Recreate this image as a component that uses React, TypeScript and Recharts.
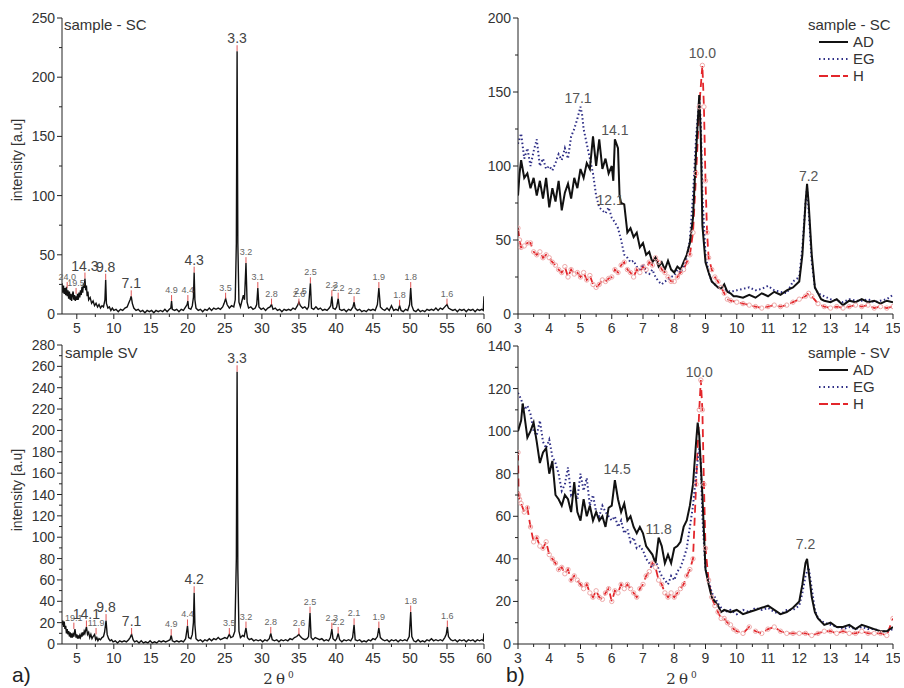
import React from 'react';
import { LineChart, Line, XAxis, YAxis, ReferenceDot, ReferenceLine } from 'recharts';

const FONT = '"Liberation Sans", Arial, sans-serif';

// a) full patterns, [2theta, intensity]
const scPattern: [number, number][] = [
  [3.0,26],[3.1,18],[3.2,24],[3.3,17],[3.4,22],[3.5,16],[3.6,23],[3.7,15],[3.8,20],[3.9,13],[4.0,19],[4.1,12],[4.2,17],[4.3,11],[4.4,16],[4.5,19],[4.6,12],[4.7,16],[4.8,11],[4.9,15],
  [5.0,12],[5.1,17],[5.2,12],[5.3,18],[5.4,14],[5.5,20],[5.6,16],[5.7,23],[5.8,18],[5.9,26],[6.0,22],[6.1,30],[6.2,20],[6.3,24],[6.4,15],[6.5,19],[6.6,12],[6.8,14],[7.0,9],[7.2,11],
  [7.4,7],[7.6,9],[7.8,6],[8.0,8],[8.2,5],[8.4,7],[8.6,6],[8.8,12],[8.9,29],[9.0,9],[9.2,5],[9.4,6],[9.6,3],[9.8,5],[10.0,3],[10.3,4],[10.6,2],[10.9,4],[11.2,3],[11.5,5],
  [11.8,6],[12.0,9],[12.2,12],[12.35,15],[12.5,9],[12.7,5],[13.0,3],[13.3,4],[13.6,2],[13.9,3],[14.2,1],[14.5,3],[14.8,2],[15.1,3],[15.4,1],[15.7,3],[16.0,2],[16.3,3],[16.6,2],[16.9,4],
  [17.2,2],[17.5,4],[17.7,5],[17.8,11],[17.9,4],[18.2,3],[18.5,4],[18.8,2],[19.1,4],[19.4,3],[19.7,6],[19.9,8],[20.0,11],[20.1,5],[20.4,4],[20.6,7],[20.75,14],[20.85,35],[20.95,12],[21.1,5],
  [21.4,3],[21.7,4],[22.0,2],[22.3,4],[22.6,3],[22.9,5],[23.2,3],[23.5,5],[23.8,4],[24.1,5],[24.4,4],[24.7,6],[24.9,9],[25.1,13],[25.3,8],[25.6,5],[25.9,7],[26.2,6],[26.4,12],[26.55,60],
  [26.65,222],[26.75,60],[26.9,10],[27.1,6],[27.3,11],[27.5,16],[27.65,12],[27.85,43],[28.0,10],[28.2,5],[28.5,6],[28.8,4],[29.1,5],[29.3,8],[29.45,22],[29.6,6],[29.9,4],[30.2,5],[30.5,3],[30.8,5],
  [31.1,6],[31.3,8],[31.5,4],[31.8,5],[32.1,3],[32.4,4],[32.7,2],[33.0,4],[33.3,3],[33.6,4],[33.9,3],[34.2,5],[34.5,4],[34.8,7],[35.0,10],[35.2,7],[35.5,5],[35.8,6],[36.1,4],[36.3,6],
  [36.55,26],[36.7,5],[37.0,4],[37.3,6],[37.6,4],[37.9,5],[38.2,3],[38.5,4],[38.8,3],[39.1,5],[39.3,7],[39.45,15],[39.6,5],[39.9,4],[40.1,6],[40.3,13],[40.5,4],[40.8,3],[41.1,4],[41.4,2],
  [41.7,4],[42.0,3],[42.3,6],[42.45,10],[42.6,5],[42.9,3],[43.2,4],[43.5,2],[43.8,3],[44.1,2],[44.4,4],[44.7,3],[45.0,4],[45.3,3],[45.6,8],[45.8,22],[46.0,6],[46.3,4],[46.6,3],[46.9,5],
  [47.2,3],[47.5,7],[47.8,3],[48.1,4],[48.4,3],[48.6,7],[48.8,3],[49.1,2],[49.4,4],[49.7,3],[49.95,8],[50.1,22],[50.25,7],[50.5,3],[50.8,2],[51.1,4],[51.4,2],[51.7,3],[52.0,2],[52.3,4],
  [52.6,3],[52.9,4],[53.2,3],[53.5,5],[53.8,3],[54.1,5],[54.4,4],[54.7,6],[55.0,8],[55.2,5],[55.5,4],[55.8,3],[56.1,4],[56.4,2],[56.7,4],[57.0,3],[57.3,4],[57.6,2],[57.9,4],[58.2,3],
  [58.5,4],[58.8,2],[59.1,4],[59.4,3],[59.7,4],[59.9,3],[60.0,15],
];

const svPattern: [number, number][] = [
  [3.0,18],[3.1,22],[3.2,16],[3.3,21],[3.4,14],[3.5,17],[3.6,10],[3.7,14],[3.8,9],[3.9,12],[4.0,7],[4.1,11],[4.2,6],[4.3,10],[4.4,6],[4.5,9],[4.6,7],[4.75,14],[4.9,6],[5.0,9],
  [5.1,5],[5.2,8],[5.3,5],[5.4,8],[5.5,6],[5.6,9],[5.7,7],[5.8,11],[5.9,8],[6.0,12],[6.1,10],[6.3,16],[6.45,9],[6.6,11],[6.75,6],[6.9,9],[7.05,5],[7.2,7],[7.4,9],[7.55,4],
  [7.7,6],[7.85,3],[8.0,5],[8.2,4],[8.4,6],[8.6,7],[8.75,11],[8.95,22],[9.1,9],[9.3,5],[9.5,3],[9.7,4],[9.9,2],[10.2,3],[10.5,1],[10.8,3],[11.1,2],[11.4,3],[11.7,2],[12.0,4],
  [12.2,6],[12.4,9],[12.6,4],[12.8,2],[13.1,3],[13.4,1],[13.7,3],[14.0,1],[14.3,2],[14.6,1],[14.9,3],[15.2,1],[15.5,2],[15.8,1],[16.1,3],[16.4,2],[16.7,3],[17.0,2],[17.3,3],[17.6,4],
  [17.75,8],[17.9,3],[18.2,2],[18.5,3],[18.8,2],[19.1,3],[19.4,2],[19.7,5],[19.95,17],[20.1,6],[20.4,5],[20.6,9],[20.75,20],[20.85,48],[20.95,18],[21.1,5],[21.4,3],[21.7,4],[22.0,2],[22.3,4],
  [22.6,3],[22.9,5],[23.2,3],[23.5,5],[23.8,4],[24.1,6],[24.4,4],[24.7,5],[25.0,6],[25.3,5],[25.6,9],[25.8,6],[26.1,7],[26.35,12],[26.55,80],[26.65,255],[26.75,70],[26.9,12],[27.1,6],[27.4,8],
  [27.6,7],[27.85,15],[28.05,6],[28.3,4],[28.6,5],[28.9,3],[29.2,4],[29.5,3],[29.8,4],[30.1,2],[30.4,4],[30.7,3],[31.0,5],[31.2,10],[31.4,4],[31.7,3],[32.0,4],[32.3,2],[32.6,4],[32.9,3],
  [33.2,4],[33.5,3],[33.8,5],[34.1,4],[34.4,6],[34.7,7],[35.0,9],[35.2,7],[35.5,5],[35.8,4],[36.1,5],[36.3,7],[36.5,29],[36.65,6],[36.9,4],[37.2,6],[37.5,5],[37.8,4],[38.1,5],[38.4,3],
  [38.7,4],[39.0,3],[39.25,6],[39.45,14],[39.6,5],[39.9,3],[40.1,5],[40.3,10],[40.5,4],[40.8,2],[41.1,4],[41.4,3],[41.7,4],[42.0,3],[42.25,6],[42.45,18],[42.6,4],[42.9,3],[43.2,4],[43.5,2],
  [43.8,3],[44.1,2],[44.4,4],[44.7,3],[45.0,5],[45.3,4],[45.6,7],[45.8,15],[46.0,6],[46.3,4],[46.6,3],[46.9,4],[47.2,2],[47.5,4],[47.8,3],[48.1,4],[48.4,2],[48.7,4],[49.0,3],[49.3,4],
  [49.6,3],[49.9,7],[50.1,30],[50.25,7],[50.5,3],[50.8,2],[51.1,4],[51.4,2],[51.7,3],[52.0,2],[52.3,4],[52.6,3],[52.9,5],[53.2,3],[53.5,4],[53.8,3],[54.1,4],[54.4,3],[54.7,6],[54.9,9],
  [55.05,16],[55.2,7],[55.5,4],[55.8,3],[56.1,4],[56.4,2],[56.7,4],[57.0,3],[57.3,4],[57.6,2],[57.9,4],[58.2,3],[58.5,4],[58.8,2],[59.1,4],[59.4,3],[59.7,4],[59.9,3],[60.0,10],
];

// peak labels: [2theta, peak top, d-spacing text, big label]
const scPeaks: [number, number, string, boolean][] = [
  [3.7,22,'24.0',false],[4.9,17,'19.5',false],[6.1,30,'14.3',true],[8.9,29,'9.8',true],[12.35,15,'7.1',true],
  [17.8,11,'4.9',false],[20.0,11,'4.4',false],[20.85,35,'4.3',true],[25.1,13,'3.5',false],[26.65,222,'3.3',true],
  [27.85,43,'3.2',false],[29.45,22,'3.1',false],[31.3,8,'2.8',false],[35.0,8,'2.6',false],[36.55,26,'2.5',false],
  [39.45,15,'2.3',false],[40.3,13,'2.2',false],[42.45,10,'2.2',false],[45.8,22,'1.9',false],[48.6,7,'1.8',false],
  [50.1,22,'1.8',false],[55.0,8,'1.6',false],
];
const scExtraLabels: [number, number, string][] = [[35.2,20,'2.5']];

const svPeaks: [number, number, string, boolean][] = [
  [4.6,14,'19.1',false],[6.3,16,'14.1',true],[7.6,9,'11.9',false],[8.95,22,'9.8',true],[12.4,9,'7.1',true],
  [17.75,8,'4.9',false],[19.95,17,'4.4',false],[20.85,48,'4.2',true],[25.6,9,'3.5',false],[26.65,255,'3.3',true],
  [27.85,15,'3.2',false],[31.2,10,'2.8',false],[35.0,9,'2.6',false],[36.5,29,'2.5',false],[39.45,14,'2.3',false],
  [40.3,10,'2.2',false],[42.45,18,'2.1',false],[45.8,15,'1.9',false],[50.1,30,'1.8',false],[55.05,16,'1.6',false],
];

// b) low-angle region, sample SC
const scAD: [number, number][] = [
  [3.0,80],[3.05,95],[3.1,104],[3.2,92],[3.3,95],[3.4,85],[3.5,92],[3.6,80],[3.7,90],[3.8,78],[3.9,92],[4.0,72],[4.1,85],[4.2,76],[4.3,90],[4.4,70],[4.5,82],[4.6,88],[4.7,78],[4.8,92],
  [4.9,85],[5.0,98],[5.1,92],[5.2,102],[5.3,98],[5.4,120],[5.5,100],[5.6,118],[5.7,98],[5.8,105],[5.9,95],[6.0,100],[6.05,90],[6.1,118],[6.2,112],[6.25,80],[6.3,75],[6.4,74],[6.5,55],[6.6,58],
  [6.7,52],[6.8,55],[6.9,45],[7.0,48],[7.1,40],[7.2,42],[7.3,35],[7.4,38],[7.5,32],[7.6,35],[7.7,30],[7.8,36],[7.9,30],[8.0,28],[8.1,32],[8.2,30],[8.3,35],[8.4,40],[8.5,48],[8.6,65],
  [8.7,110],[8.8,148],[8.85,120],[8.9,60],[9.0,35],[9.1,28],[9.2,22],[9.3,20],[9.4,18],[9.5,17],[9.6,20],[9.7,15],[9.8,14],[9.9,12],[10.0,12],[10.2,11],[10.4,13],[10.6,11],[10.8,14],[11.0,12],
  [11.2,15],[11.4,13],[11.6,16],[11.8,18],[12.0,22],[12.1,40],[12.2,75],[12.25,88],[12.3,75],[12.4,40],[12.5,18],[12.6,14],[12.7,10],[12.8,9],[13.0,8],[13.2,10],[13.4,6],[13.6,9],[13.8,8],[14.0,10],
  [14.2,8],[14.4,9],[14.6,7],[14.8,9],[15.0,8],
];
const scEG: [number, number][] = [
  [3.0,115],[3.1,122],[3.2,105],[3.3,112],[3.4,100],[3.5,110],[3.6,118],[3.7,100],[3.8,105],[3.9,98],[4.0,100],[4.1,97],[4.2,102],[4.3,108],[4.4,104],[4.5,112],[4.6,105],[4.7,120],[4.8,125],[4.9,132],
  [5.0,140],[5.05,135],[5.1,125],[5.2,115],[5.3,105],[5.4,95],[5.5,80],[5.6,72],[5.7,70],[5.8,68],[5.9,72],[6.0,65],[6.1,62],[6.2,58],[6.3,50],[6.4,40],[6.5,38],[6.6,35],[6.7,36],[6.8,32],
  [6.9,30],[7.0,34],[7.1,28],[7.2,27],[7.3,30],[7.4,25],[7.5,22],[7.6,20],[7.7,22],[7.8,23],[7.9,25],[8.0,26],[8.1,30],[8.2,28],[8.3,32],[8.4,38],[8.5,50],[8.6,80],[8.7,120],[8.8,145],
  [8.85,130],[8.9,80],[9.0,40],[9.1,28],[9.2,22],[9.3,20],[9.4,18],[9.6,17],[9.8,15],[10.0,16],[10.2,17],[10.4,18],[10.6,16],[10.8,17],[11.0,19],[11.2,16],[11.4,15],[11.6,14],[11.8,22],[12.0,25],
  [12.1,45],[12.2,75],[12.25,85],[12.3,70],[12.4,35],[12.5,18],[12.6,14],[12.8,12],[13.0,10],[13.2,9],[13.4,8],[13.6,10],[13.8,9],[14.0,9],[14.2,10],[14.4,8],[14.6,9],[14.8,10],[15.0,13],
];
const scH: [number, number][] = [
  [3.0,58],[3.05,50],[3.1,45],[3.2,46],[3.3,48],[3.4,48],[3.5,42],[3.6,40],[3.7,42],[3.8,38],[3.9,40],[4.0,38],[4.1,35],[4.2,33],[4.3,30],[4.4,28],[4.5,32],[4.6,25],[4.7,30],[4.8,27],
  [4.9,28],[5.0,25],[5.1,28],[5.2,23],[5.3,26],[5.4,20],[5.5,18],[5.6,20],[5.7,23],[5.8,22],[5.9,24],[6.0,25],[6.1,30],[6.2,28],[6.3,33],[6.4,35],[6.5,30],[6.6,28],[6.7,25],[6.8,30],
  [6.9,28],[7.0,32],[7.1,30],[7.2,35],[7.3,33],[7.4,38],[7.5,35],[7.6,30],[7.7,28],[7.8,25],[7.9,22],[8.0,22],[8.1,25],[8.2,28],[8.3,30],[8.4,35],[8.5,40],[8.6,55],[8.7,95],[8.8,140],
  [8.9,168],[8.95,140],[9.0,90],[9.05,55],[9.1,38],[9.2,30],[9.3,25],[9.4,22],[9.5,18],[9.6,14],[9.7,10],[9.8,9],[10.0,8],[10.2,7],[10.4,6],[10.6,5],[10.8,4],[11.0,5],[11.2,6],[11.4,5],
  [11.6,6],[11.8,8],[12.0,10],[12.2,12],[12.3,14],[12.4,12],[12.6,7],[12.8,5],[13.0,4],[13.2,5],[13.4,4],[13.6,5],[13.8,6],[14.0,5],[14.2,6],[14.4,4],[14.6,5],[14.8,4],[15.0,5],
];
const scLowLabels: [number, number, string][] = [[4.92,146,'17.1'],[6.1,124,'14.1'],[5.95,77,'12.1'],[8.9,176,'10.0'],[12.3,93,'7.2']];

// b) low-angle region, sample SV
const svAD: [number, number][] = [
  [3.0,100],[3.1,105],[3.15,113],[3.2,108],[3.3,97],[3.4,100],[3.5,104],[3.6,95],[3.7,85],[3.8,90],[3.9,92],[4.0,80],[4.1,86],[4.2,70],[4.3,68],[4.4,65],[4.5,70],[4.6,68],[4.7,62],[4.8,76],
  [4.9,62],[5.0,58],[5.1,68],[5.2,60],[5.3,65],[5.4,58],[5.5,62],[5.6,58],[5.7,60],[5.8,55],[5.9,64],[6.0,65],[6.1,77],[6.2,68],[6.3,62],[6.4,66],[6.5,58],[6.6,60],[6.7,55],[6.8,52],
  [6.9,55],[7.0,52],[7.1,46],[7.2,44],[7.3,42],[7.4,38],[7.5,50],[7.6,46],[7.7,38],[7.8,42],[7.9,38],[8.0,45],[8.1,46],[8.2,48],[8.3,55],[8.4,58],[8.5,65],[8.6,75],[8.7,95],[8.75,104],
  [8.8,98],[8.9,70],[9.0,35],[9.1,28],[9.2,22],[9.3,20],[9.4,18],[9.5,15],[9.6,16],[9.8,15],[10.0,16],[10.2,14],[10.4,15],[10.6,16],[10.8,17],[11.0,18],[11.2,16],[11.4,14],[11.6,15],[11.8,17],
  [12.0,20],[12.1,28],[12.2,38],[12.25,40],[12.3,34],[12.4,22],[12.5,15],[12.6,12],[12.8,9],[13.0,10],[13.2,8],[13.4,8],[13.6,9],[13.8,7],[14.0,9],[14.2,8],[14.4,7],[14.6,6],[14.8,6],[15.0,8],
];
const svEG: [number, number][] = [
  [3.0,118],[3.1,115],[3.2,110],[3.3,112],[3.4,108],[3.5,100],[3.6,98],[3.7,105],[3.8,95],[3.9,92],[4.0,96],[4.1,88],[4.2,85],[4.3,80],[4.4,72],[4.5,75],[4.6,83],[4.7,70],[4.8,72],[4.9,68],
  [5.0,80],[5.1,72],[5.2,78],[5.3,65],[5.4,70],[5.5,62],[5.6,60],[5.7,65],[5.8,62],[5.9,60],[6.0,58],[6.1,60],[6.2,55],[6.3,58],[6.4,52],[6.5,54],[6.6,48],[6.7,50],[6.8,45],[6.9,46],
  [7.0,44],[7.1,40],[7.2,38],[7.3,36],[7.4,40],[7.5,35],[7.6,32],[7.7,30],[7.8,28],[7.9,32],[8.0,30],[8.1,34],[8.2,36],[8.3,40],[8.4,45],[8.5,55],[8.6,65],[8.7,80],[8.8,92],[8.85,85],
  [8.9,60],[9.0,35],[9.1,30],[9.2,24],[9.3,22],[9.4,19],[9.6,15],[9.8,16],[10.0,14],[10.2,16],[10.4,15],[10.6,17],[10.8,16],[11.0,17],[11.2,15],[11.4,14],[11.6,16],[11.8,16],[12.0,18],[12.1,24],
  [12.2,32],[12.3,36],[12.4,26],[12.5,16],[12.6,12],[12.8,10],[13.0,9],[13.2,8],[13.4,7],[13.6,8],[13.8,7],[14.0,8],[14.2,7],[14.4,7],[14.6,6],[14.8,6],[15.0,7],
];
const svH: [number, number][] = [
  [3.0,90],[3.02,70],[3.05,68],[3.1,66],[3.2,62],[3.3,64],[3.4,55],[3.5,48],[3.6,50],[3.7,46],[3.8,45],[3.9,48],[4.0,42],[4.1,40],[4.2,38],[4.3,35],[4.4,36],[4.5,33],[4.6,35],[4.7,30],
  [4.8,32],[4.9,30],[5.0,28],[5.1,26],[5.2,28],[5.3,24],[5.4,22],[5.5,25],[5.6,22],[5.7,21],[5.8,24],[5.9,26],[6.0,20],[6.1,25],[6.2,24],[6.3,28],[6.4,26],[6.5,28],[6.6,26],[6.7,24],
  [6.8,22],[6.9,26],[7.0,28],[7.1,32],[7.2,34],[7.3,38],[7.4,36],[7.5,30],[7.6,28],[7.7,24],[7.8,22],[7.9,24],[8.0,22],[8.1,24],[8.2,26],[8.3,28],[8.4,32],[8.5,35],[8.6,40],[8.7,75],
  [8.8,110],[8.85,124],[8.9,110],[8.95,75],[9.0,45],[9.1,30],[9.2,22],[9.3,18],[9.4,15],[9.5,12],[9.6,12],[9.7,10],[9.8,9],[9.9,7],[10.0,6],[10.2,5],[10.4,8],[10.6,6],[10.8,5],[11.0,7],
  [11.2,8],[11.4,6],[11.6,5],[11.8,5],[12.0,5],[12.2,5],[12.4,4],[12.6,5],[12.8,6],[13.0,6],[13.2,5],[13.4,6],[13.6,5],[13.8,5],[14.0,6],[14.2,5],[14.4,5],[14.6,5],[14.8,4],[15.0,12],
];
const svLowLabels: [number, number, string][] = [[6.17,82,'14.5'],[7.5,54,'11.8'],[8.8,128,'10.0'],[12.2,47,'7.2']];

// axis ticks (major ticks carry labels, minor ones only a short line)
const wideXTicks = [5, 7.5, 10, 12.5, 15, 17.5, 20, 22.5, 25, 27.5, 30, 32.5, 35, 37.5, 40, 42.5, 45, 47.5, 50, 52.5, 55, 57.5, 60];
const wideXMajor = [5, 10, 15, 20, 25, 30, 35, 40, 45, 50, 55, 60];
const lowXTicks = [3, 3.5, 4, 4.5, 5, 5.5, 6, 6.5, 7, 7.5, 8, 8.5, 9, 9.5, 10, 10.5, 11, 11.5, 12, 12.5, 13, 13.5, 14, 14.5, 15];
const lowXMajor = [3, 4, 5, 6, 7, 8, 9, 10, 11, 12, 13, 14, 15];
const scYTicks = [0, 25, 50, 75, 100, 125, 150, 175, 200, 225, 250];
const scYMajor = [0, 50, 100, 150, 200, 250];
const svYTicks = [0, 10, 20, 30, 40, 50, 60, 70, 80, 90, 100, 110, 120, 130, 140, 150, 160, 170, 180, 190, 200, 210, 220, 230, 240, 250, 260, 270, 280];
const svYMajor = [0, 20, 40, 60, 80, 100, 120, 140, 160, 180, 200, 220, 240, 260, 280];
const scLowYTicks = [0, 25, 50, 75, 100, 125, 150, 175, 200];
const scLowYMajor = [0, 50, 100, 150, 200];
const svLowYTicks = [0, 10, 20, 30, 40, 50, 60, 70, 80, 90, 100, 110, 120, 130, 140];
const svLowYMajor = [0, 20, 40, 60, 80, 100, 120, 140];

const pts = (arr: [number, number][]) => arr.map(([x, y]) => ({ x, y }));

const XTick = (props: any) => {
  const { x, y, payload, majors } = props;
  const major = majors.includes(payload.value);
  return (
    <g>
      <line x1={x} x2={x} y1={y} y2={y + (major ? 5 : 3)} stroke="#222" strokeWidth={1} />
      {major && (
        <text x={x} y={y + 19} textAnchor="middle" fontSize={14} fill="#333" fontFamily={FONT}>
          {payload.value}
        </text>
      )}
    </g>
  );
};

const YTick = (props: any) => {
  const { x, y, payload, majors } = props;
  const major = majors.includes(payload.value);
  return (
    <g>
      <line x1={x} x2={x - (major ? 5 : 3)} y1={y} y2={y} stroke="#222" strokeWidth={1} />
      {major && (
        <text x={x - 7} y={y + 5} textAnchor="end" fontSize={14} fill="#333" fontFamily={FONT}>
          {payload.value}
        </text>
      )}
    </g>
  );
};

const axisCommon = { tickSize: 0, tickMargin: 0, tickLine: false, interval: 0 as const, axisLine: { stroke: '#222' } };

const peakLabels = (peaks: [number, number, string, boolean][], mark: number, keyPrefix: string) =>
  peaks.flatMap(([x, y, t, big], i) => [
    <ReferenceLine
      key={`${keyPrefix}m${i}`}
      segment={[{ x, y }, { x, y: y + mark }]}
      stroke="#e05555"
      strokeWidth={1}
    />,
    <ReferenceDot
      key={`${keyPrefix}t${i}`}
      x={x}
      y={y + mark}
      r={0}
      fill="none"
      stroke="none"
      label={{ value: t, position: 'top', offset: 2, fontSize: big ? 14 : 9, fill: big ? '#444' : '#666', fontFamily: FONT }}
    />,
  ]);

const textLabels = (items: [number, number, string][], size: number, keyPrefix: string) =>
  items.map(([x, y, t], i) => (
    <ReferenceDot
      key={`${keyPrefix}${i}`}
      x={x}
      y={y}
      r={0}
      fill="none"
      stroke="none"
      label={{ value: t, position: 'center', fontSize: size, fill: '#555', fontFamily: FONT }}
    />
  ));

const WidePanel = ({ data, peaks, extra, yMax, yTicks, yMajor, top, mark }: any) => (
  <LineChart width={500} height={340} margin={{ top, right: 16, bottom: 0, left: 0 }}>
    <XAxis type="number" dataKey="x" domain={[3, 60]} ticks={wideXTicks} height={26} allowDataOverflow
      tick={<XTick majors={wideXMajor} />} {...axisCommon} />
    <YAxis type="number" dataKey="y" domain={[0, yMax]} ticks={yTicks} width={62} allowDataOverflow
      tick={<YTick majors={yMajor} />} {...axisCommon} />
    <Line data={pts(data)} dataKey="y" type="linear" stroke="#111" strokeWidth={1.4} dot={false} isAnimationActive={false} />
    {peakLabels(peaks, mark, 'p')}
    {extra && textLabels(extra, 9, 'e')}
  </LineChart>
);

const LowPanel = ({ ad, eg, h, labels, yMax, yTicks, yMajor, top }: any) => (
  <LineChart width={430} height={340} margin={{ top, right: 7, bottom: 0, left: 0 }}>
    <XAxis type="number" dataKey="x" domain={[3, 15]} ticks={lowXTicks} height={26} allowDataOverflow
      tick={<XTick majors={lowXMajor} />} {...axisCommon} />
    <YAxis type="number" dataKey="y" domain={[0, yMax]} ticks={yTicks} width={48} allowDataOverflow
      tick={<YTick majors={yMajor} />} {...axisCommon} />
    <Line data={pts(h)} dataKey="y" type="linear" stroke="#e3262b" strokeWidth={1.8} strokeDasharray="8 5"
      dot={{ r: 2.2, stroke: '#eeaaaa', strokeWidth: 1, fill: 'none', strokeDasharray: 'none' }} isAnimationActive={false} />
    <Line data={pts(eg)} dataKey="y" type="linear" stroke="#2e2e86" strokeWidth={2} strokeDasharray="1.5 2.5" dot={false} isAnimationActive={false} />
    <Line data={pts(ad)} dataKey="y" type="linear" stroke="#111" strokeWidth={2} dot={false} isAnimationActive={false} />
    {textLabels(labels, 14, 'l')}
  </LineChart>
);

const Legend = ({ title, top }: { title: string; top: number }) => {
  const rows = [
    { name: 'AD', stroke: '#111', dash: undefined },
    { name: 'EG', stroke: '#2e2e86', dash: '1.5 3' },
    { name: 'H', stroke: '#e3262b', dash: '9 3' },
  ];
  return (
    <div style={{ position: 'absolute', left: 808, top, fontFamily: FONT, fontSize: 15, color: '#333', lineHeight: '17px' }}>
      <div>{title}</div>
      {rows.map((r) => (
        <div key={r.name} style={{ display: 'flex', alignItems: 'center', marginLeft: 10 }}>
          <svg width={31} height={17}>
            <line x1={1} x2={30} y1={9} y2={9} stroke={r.stroke} strokeWidth={2} strokeDasharray={r.dash} />
          </svg>
          <span style={{ marginLeft: 4 }}>{r.name}</span>
        </div>
      ))}
    </div>
  );
};

const abs = (left: number, top: number): React.CSSProperties => ({ position: 'absolute', left, top });

export default function App() {
  return (
    <div style={{ position: 'absolute', left: 0, top: 0, width: 904, height: 688, background: '#fff', overflow: 'hidden' }}>
      <div style={abs(0, 0)}>
        <WidePanel data={scPattern} peaks={scPeaks} extra={scExtraLabels} yMax={250} yTicks={scYTicks} yMajor={scYMajor} top={18} mark={5} />
      </div>
      <div style={abs(0, 330)}>
        <WidePanel data={svPattern} peaks={svPeaks} yMax={280} yTicks={svYTicks} yMajor={svYMajor} top={15} mark={6} />
      </div>
      <div style={abs(470, 0)}>
        <LowPanel ad={scAD} eg={scEG} h={scH} labels={scLowLabels} yMax={200} yTicks={scLowYTicks} yMajor={scLowYMajor} top={18} />
      </div>
      <div style={abs(470, 330)}>
        <LowPanel ad={svAD} eg={svEG} h={svH} labels={svLowLabels} yMax={140} yTicks={svLowYTicks} yMajor={svLowYMajor} top={16} />
      </div>

      <div style={{ ...abs(64, 16), fontFamily: FONT, fontSize: 15, color: '#333' }}>sample - SC</div>
      <div style={{ ...abs(65, 344), fontFamily: FONT, fontSize: 15, color: '#333' }}>sample SV</div>
      <Legend title="sample - SC" top={16} />
      <Legend title="sample - SV" top={344} />

      {[160, 490].map((cy) => (
        <div key={cy} style={{ position: 'absolute', left: 17, top: cy, transform: 'translate(-50%, -50%) rotate(-90deg)', whiteSpace: 'nowrap', fontFamily: FONT, fontSize: 14, color: '#333' }}>
          intensity [a.u]
        </div>
      ))}
      {[280, 683].map((cx) => (
        <div key={cx} style={{ position: 'absolute', left: cx, top: 670, transform: 'translateX(-50%)', fontFamily: '"DejaVu Serif", serif', fontSize: 15, color: '#333', letterSpacing: 3 }}>
          2θ<sup style={{ fontSize: 9 }}>0</sup>
        </div>
      ))}
      <div style={{ ...abs(12, 663), fontFamily: FONT, fontSize: 21, color: '#222' }}>a)</div>
      <div style={{ ...abs(506, 663), fontFamily: FONT, fontSize: 21, color: '#222' }}>b)</div>
    </div>
  );
}
